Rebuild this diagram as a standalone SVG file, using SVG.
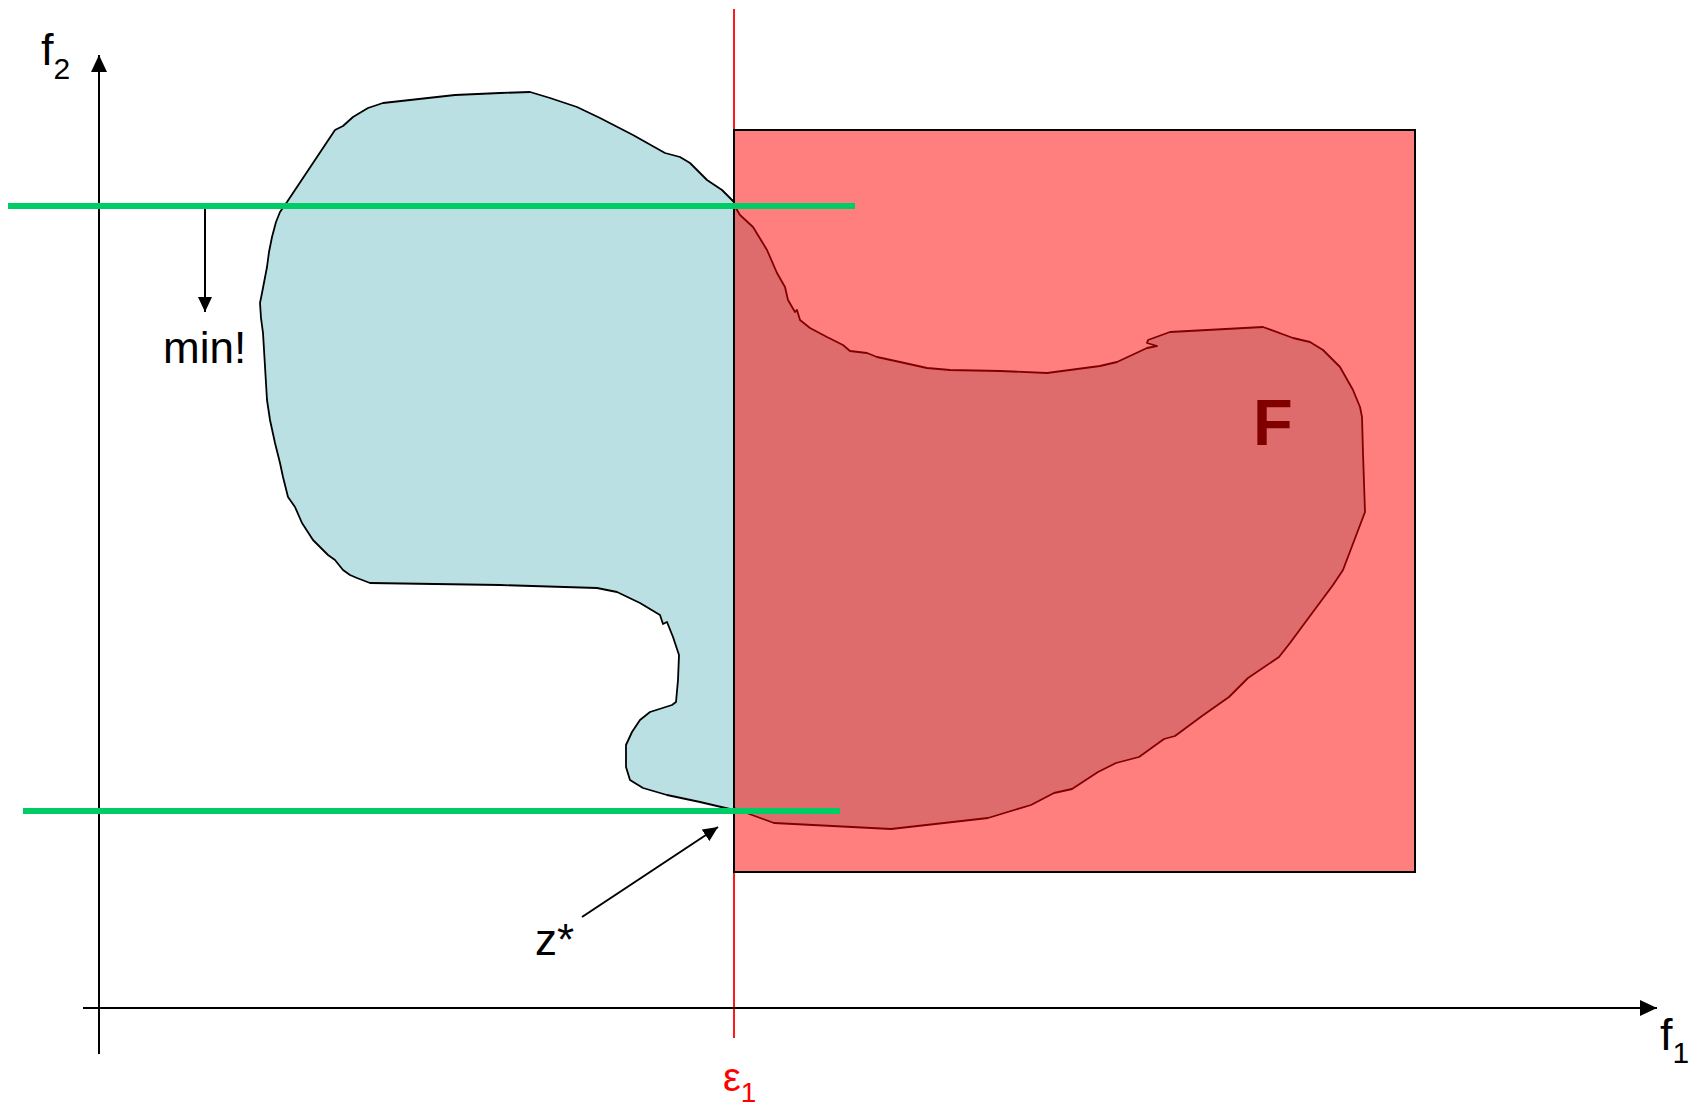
<svg xmlns="http://www.w3.org/2000/svg" width="1698" height="1110" viewBox="0 0 1698 1110">
<style>
.lbl{font-family:"Liberation Sans",Arial,sans-serif;fill:#000}
.ax{stroke:#000;stroke-width:2;fill:none}
.grn{stroke:#00CC66;stroke-width:6;fill:none}
</style>
<defs>
<marker id="ah" markerUnits="userSpaceOnUse" markerWidth="18" markerHeight="16" refX="17" refY="8" orient="auto">
<path d="M0,0 L17,8 L0,16 z" fill="#000"/>
</marker>
<marker id="ahs" markerUnits="userSpaceOnUse" markerWidth="16" markerHeight="14" refX="15" refY="7" orient="auto">
<path d="M0,0 L15,7 L0,14 z" fill="#000"/>
</marker>
</defs>
<rect width="1698" height="1110" fill="#fff"/>
<g id="region-blue">
<polygon points="734,202 722,190 707,180 690,163 680,157 665,153 633,135 600,118 577,107 550,98 530,92 500,93 455,95 383,103 368,108 353,117 343,126 335,130 313,163 295,190 287,202 280,212 276,222 272,237 269,252 267,267 262,293 260,303 261,318 263,333 267,400 270,420 275,443 280,463 283,477 288,497 295,507 302,523 313,540 328,555 335,560 343,570 350,575 357,578 370,583 500,585 597,588 617,592 640,603 660,615 663,624 667,622 673,637 679,655 678,680 676,702 672,705 650,712 640,720 632,732 626,745 626,767 630,780 643,788 667,795 700,802 734,810" fill="#BBE0E3" stroke="#000" stroke-width="1.8" stroke-linejoin="round"/>
</g>
<g id="epsilon-line">
<line x1="734" y1="9" x2="734" y2="1038" stroke="#FF0000" stroke-width="1.8"/>
</g>
<g id="rect-feasible">
<rect x="734" y="130" width="681" height="742" fill="#FF7F7F" stroke="#000" stroke-width="2"/>
</g>
<g id="region-F">
<polygon points="734,205 740,215 753,227 767,250 777,273 785,287 788,300 795,312 797,310 800,320 810,328 827,337 843,345 850,351 867,353 877,357 900,362 927,368 950,370 1000,371 1047,373 1100,366 1117,362 1147,348 1157,346 1147,343 1148,340 1170,332 1263,327 1293,338 1310,342 1323,350 1340,367 1353,390 1360,407 1362,417 1363,453 1365,512 1343,570 1333,585 1307,620 1290,643 1279,657 1248,678 1229,697 1202,716 1175,736 1164,739 1139,757 1116,763 1098,772 1072,789 1054,793 1031,805 988,818 891,829 774,823 752,815 734,808" fill="#DE6C6C" stroke="#800000" stroke-width="1.8" stroke-linejoin="round"/>
<line x1="734" y1="130" x2="734" y2="872" stroke="#000" stroke-width="2"/>
<text x="1253" y="445" font-family="Liberation Sans,Arial,sans-serif" font-weight="bold" font-size="65" fill="#800000">F</text>
</g>
<g id="connectors">
<line class="ax" x1="99" y1="1054" x2="99" y2="55" marker-end="url(#ah)"/>
<line class="ax" x1="83" y1="1008" x2="1657" y2="1008" marker-end="url(#ah)"/>
<line class="ax" x1="205" y1="209" x2="205" y2="312" marker-end="url(#ahs)"/>
<line class="ax" x1="582" y1="917" x2="718" y2="827" marker-end="url(#ahs)"/>
<line class="grn" x1="8" y1="206" x2="855" y2="206"/>
<line class="grn" x1="23" y1="811" x2="840" y2="811"/>
</g>
<g id="labels">
<text class="lbl" x="41" y="65" font-size="45">f<tspan font-size="30" dy="14">2</tspan></text>
<text class="lbl" x="1660" y="1050" font-size="45">f<tspan font-size="30" dy="13">1</tspan></text>
<text class="lbl" x="163" y="363" font-size="44">min!</text>
<text class="lbl" x="535" y="955" font-size="44">z*</text>
<text x="723" y="1091" font-family="Liberation Sans,Arial,sans-serif" font-size="40" fill="#FF0000">ε<tspan font-size="28" dy="11">1</tspan></text>
</g>
</svg>
